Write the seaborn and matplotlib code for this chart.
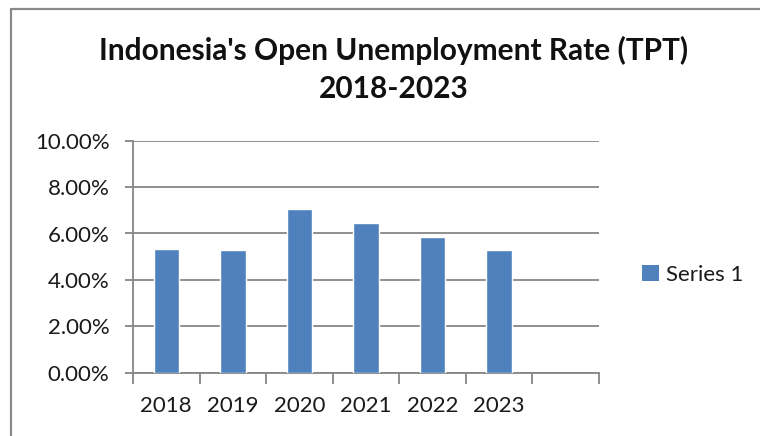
import matplotlib
matplotlib.use("Agg")
import matplotlib.pyplot as plt
from matplotlib.lines import Line2D
from matplotlib.patches import Patch
from matplotlib.ticker import FuncFormatter
import seaborn as sns
import pandas as pd

years = ["2018", "2019", "2020", "2021", "2022", "2023"]
rates = [5.34, 5.28, 7.05, 6.45, 5.85, 5.30]
series_name = "Series 1"
title_text = "Indonesia's Open Unemployment Rate (TPT)\n2018-2023"
y_ticks = [0, 2, 4, 6, 8, 10]

df = pd.DataFrame({"year": years, "rate": rates})

sns.set_theme(style="white")
plt.rcParams["font.family"] = ["Lato", "DejaVu Sans"]

W, H = 760, 436
fig = plt.figure(figsize=(W / 100, H / 100), dpi=100)
ax = fig.add_axes([133 / W, 1 - 372.7 / H, (599 - 133) / W, (372.7 - 140.7) / H])

bar_color = "#4F81BD"
grid_color = "#868686"
text_color = "#1a1a1a"

sns.barplot(data=df, x="year", y="rate", color=bar_color, width=0.38,
            saturation=1, ax=ax, zorder=3)

ax.set_xlim(-0.5, 6.5)
ax.set_ylim(0, 10)
ax.set_yticks(y_ticks)
ax.yaxis.set_major_formatter(FuncFormatter(lambda v, p: f"{v:.2f}%"))
ax.grid(axis="y", color=grid_color, linewidth=1.3, zorder=0)
ax.set_axisbelow(True)
ax.set_xlabel("")
ax.set_ylabel("")

for s in ["top", "right"]:
    ax.spines[s].set_visible(False)
for s in ["left", "bottom"]:
    ax.spines[s].set_color(grid_color)
    ax.spines[s].set_linewidth(1.3)

ax.set_xticks(range(len(years)))
ax.set_xticklabels(years)
ax.tick_params(axis="x", which="major", length=0, pad=17, labelsize=16, colors=text_color)
ax.set_xticks([i - 0.5 for i in range(8)], minor=True)
ax.tick_params(axis="x", which="minor", length=8, width=1.3, color=grid_color, bottom=True)
ax.tick_params(axis="y", length=6, width=1.3, color=grid_color, left=True, pad=11,
               labelsize=16, labelcolor=text_color)

fig.suptitle(title_text, x=394 / W, y=1 - 36 / H, fontsize=21.5, fontweight="bold",
             color="#111111", linespacing=1.45, va="top")

handle = Patch(facecolor=bar_color, edgecolor="none")
fig.legend([handle], [series_name], loc="center left",
           bbox_to_anchor=(622 / W, 1 - 275 / H), frameon=False,
           handlelength=0.75, handleheight=0.75, handletextpad=0.35,
           fontsize=16, labelcolor=text_color)

border = "#8a8a8a"
fig.add_artist(Line2D([11 / W, 1], [1 - 9 / H, 1 - 9 / H], color=border, linewidth=1.6,
                      transform=fig.transFigure))
fig.add_artist(Line2D([11 / W, 11 / W], [0, 1 - 9 / H], color=border, linewidth=1.6,
                      transform=fig.transFigure))

fig.savefig("out.png", dpi=100)
